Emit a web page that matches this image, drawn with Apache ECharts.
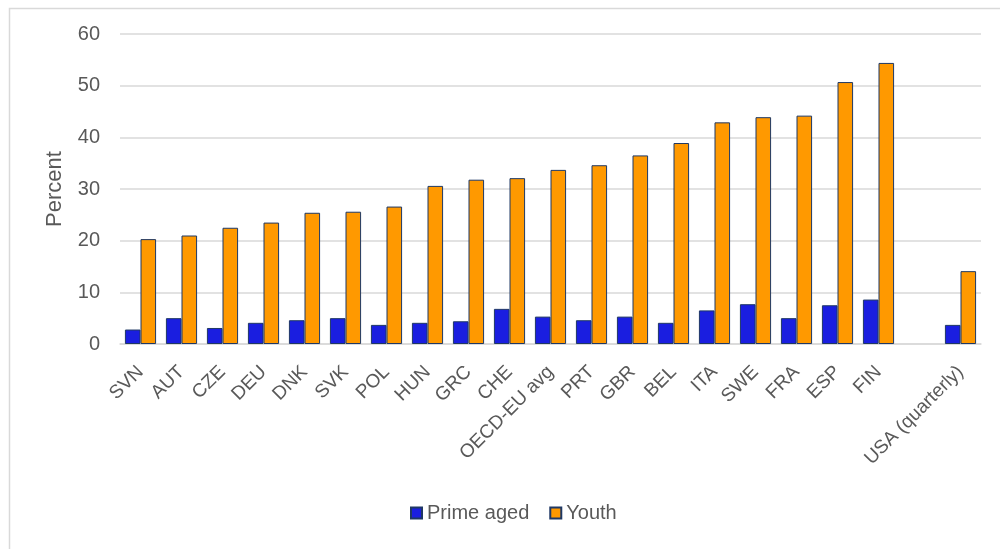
<!DOCTYPE html>
<html>
<head>
<meta charset="utf-8">
<script src="https://cdn.jsdelivr.net/npm/echarts@6/dist/echarts.min.js"></script>
<style>
  html, body { margin: 0; padding: 0; background: #fff; }
  #chart { width: 1000px; height: 549px; }
</style>
</head>
<body>
<div id="chart"></div>
<script>
// categories (blank slot separates USA from the rest)
const countries = ['SVN', 'AUT', 'CZE', 'DEU', 'DNK', 'SVK', 'POL', 'HUN', 'GRC', 'CHE',
  'OECD-EU avg', 'PRT', 'GBR', 'BEL', 'ITA', 'SWE', 'FRA', 'ESP', 'FIN', '', 'USA (quarterly)']

const primeAged = [2.8, 5.0, 3.1, 4.1, 4.6, 5.0, 3.7, 4.1, 4.4, 6.8,
  5.3, 4.6, 5.3, 4.1, 6.5, 7.7, 5.0, 7.5, 8.6, null, 3.7]

const youth = [20.3, 21.0, 22.5, 23.5, 25.4, 25.6, 26.6, 30.6, 31.8, 32.1,
  33.7, 34.6, 36.5, 38.9, 42.9, 43.9, 44.2, 50.7, 54.4, null, 14.1]

const yTicks = [0, 10, 20, 30, 40, 50, 60]

const textColor = '#595959'
const font = 'Liberation Sans, Arial, sans-serif'

const chart = echarts.init(document.getElementById('chart'))

chart.setOption({
  animation: false,
  backgroundColor: '#fff',
  graphic: [
    {
      // chart frame, only left/top edges fall inside the picture
      type: 'rect',
      left: 7, top: 6,
      shape: { width: 1010, height: 560 },
      style: { fill: 'none', stroke: '#d9d9d9', lineWidth: 1.5 }
    }
  ],
  grid: { left: 120, right: 19, top: 34, bottom: 205, containLabel: false },
  legend: {
    data: ['Prime aged', 'Youth'],
    left: 405,
    top: 498,
    itemWidth: 11,
    itemHeight: 11,
    itemGap: 20,
    icon: 'rect',
    textStyle: { color: textColor, fontSize: 20, fontFamily: font }
  },
  xAxis: {
    type: 'category',
    data: countries,
    axisLine: { lineStyle: { color: '#d9d9d9', width: 1.5 } },
    axisTick: { show: false },
    axisLabel: {
      interval: 0,
      rotate: 45,
      margin: 25,
      color: textColor,
      fontSize: 19,
      fontFamily: font
    }
  },
  yAxis: {
    type: 'value',
    min: yTicks[0],
    max: yTicks[yTicks.length - 1],
    interval: 10,
    name: 'Percent',
    nameLocation: 'middle',
    nameGap: 54,
    nameTextStyle: { color: textColor, fontSize: 22, fontFamily: font },
    axisLine: { show: false },
    axisTick: { show: false },
    axisLabel: { color: textColor, fontSize: 20, fontFamily: font, margin: 20 },
    splitLine: { lineStyle: { color: '#d9d9d9', width: 1.5 } }
  },
  series: [
    {
      name: 'Prime aged',
      type: 'bar',
      data: primeAged,
      barGap: '0%',
      barCategoryGap: '24%',
      itemStyle: { color: '#1a1ee0', borderColor: '#1f3864', borderWidth: 1 }
    },
    {
      name: 'Youth',
      type: 'bar',
      data: youth,
      itemStyle: { color: '#ff9900', borderColor: '#1f3864', borderWidth: 1 }
    }
  ]
})
</script>
</body>
</html>
